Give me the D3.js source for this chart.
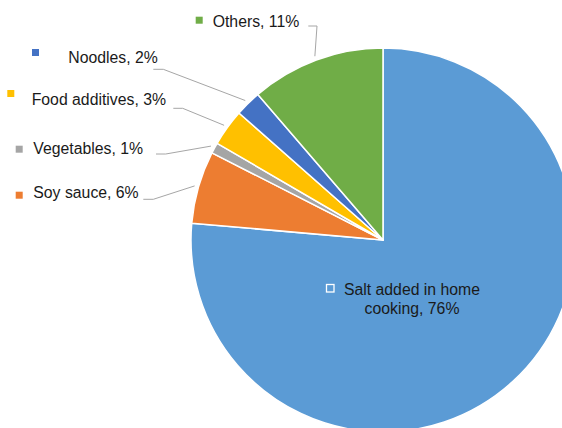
<!DOCTYPE html>
<html>
<head>
<meta charset="utf-8">
<script src="https://cdn.jsdelivr.net/npm/d3@7"></script>
<style>
  body { margin: 0; background: #fff; }
  svg { display: block; font-family: "Liberation Sans", Arial, sans-serif; }
</style>
</head>
<body>
<div class="canvas"></div>
<script>
const categories = ["Salt added in home cooking", "Soy sauce", "Vegetables", "Food additives", "Noodles", "Others"];
const values = [76.4, 6.1, 0.9, 3.1, 2.2, 11.3];
const colors = ["#5B9BD5", "#ED7D31", "#A5A5A5", "#FFC000", "#4472C4", "#70AD47"];

// hand placed label boxes (like the original chart)
const labelLayout = [
  { tx: 412, ty: 295, mx: 326, my: 284, inside: true, breakAt: 4 },
  { tx: 33.3, ty: 198.3, mx: 15.7, my: 191.7, lx: 143.3, kx: 153.3, ky: 199.3 },
  { tx: 33.3, ty: 154, mx: 15.7, my: 145.7, lx: 156, kx: 165.7, ky: 154 },
  { tx: 31.7, ty: 105, mx: 7.3, my: 90, lx: 173.3, kx: 182.7, ky: 108.3 },
  { tx: 68.3, ty: 62.7, mx: 32, my: 49, lx: 153.3, kx: 163.3, ky: 69.3 },
  { tx: 212.7, ty: 26.7, mx: 195.7, my: 16.7, lx: 308.3, kx: 317, ky: 26 }
];

const width = 562;
const height = 428;
const cx = 383;
const cy = 240;
const radius = 192;
const fontSize = 15.8;

const data = categories.map((c, i) => ({ name: c, value: values[i], color: colors[i], lay: labelLayout[i] }));

const svg = d3.select(".canvas").append("svg")
  .attr("width", width)
  .attr("height", height);

const pie = d3.pie().sort(null).value(d => d.value);
const arc = d3.arc().innerRadius(0).outerRadius(radius);
const arcs = pie(data);

const g = svg.append("g").attr("transform", `translate(${cx},${cy})`);

g.selectAll("path")
  .data(arcs)
  .join("path")
    .attr("d", arc)
    .attr("fill", d => d.data.color)
    .attr("stroke", "#fff")
    .attr("stroke-width", 1.5)
    .attr("stroke-linejoin", "round");

// leader lines
const outer = d3.arc().innerRadius(radius + 4).outerRadius(radius + 4);
arcs.filter(d => !d.data.lay.inside).forEach(d => {
  const [px, py] = outer.centroid(d);
  const l = d.data.lay;
  svg.append("polyline")
    .attr("points", [[l.lx, l.ky], [l.kx, l.ky], [cx + px, cy + py]].map(p => p.join(",")).join(" "))
    .attr("fill", "none")
    .attr("stroke", "#A6A6A6")
    .attr("stroke-width", 1);
});

const fmt = v => Math.round(v) + "%";

// labels
arcs.forEach(d => {
  const l = d.data.lay;
  const text = d.data.name + ", " + fmt(d.data.value);
  if (l.inside) {
    svg.append("rect")
      .attr("x", l.mx + 0.5).attr("y", l.my + 0.5)
      .attr("width", 7.5).attr("height", 7.5)
      .attr("fill", d.data.color)
      .attr("stroke", "#fff")
      .attr("stroke-width", 1.3);
    const words = text.split(" ");
    const t = svg.append("text")
      .attr("text-anchor", "middle")
      .attr("font-size", fontSize)
      .attr("fill", "#1a1a1a");
    t.append("tspan").attr("x", l.tx).attr("y", l.ty).text(words.slice(0, l.breakAt).join(" "));
    t.append("tspan").attr("x", l.tx).attr("y", l.ty + 19).text(words.slice(l.breakAt).join(" "));
  } else {
    svg.append("rect")
      .attr("x", l.mx).attr("y", l.my)
      .attr("width", 7).attr("height", 7)
      .attr("fill", d.data.color);
    svg.append("text")
      .attr("x", l.tx).attr("y", l.ty)
      .attr("font-size", fontSize)
      .attr("fill", "#1a1a1a")
      .text(text);
  }
});
</script>
</body>
</html>
